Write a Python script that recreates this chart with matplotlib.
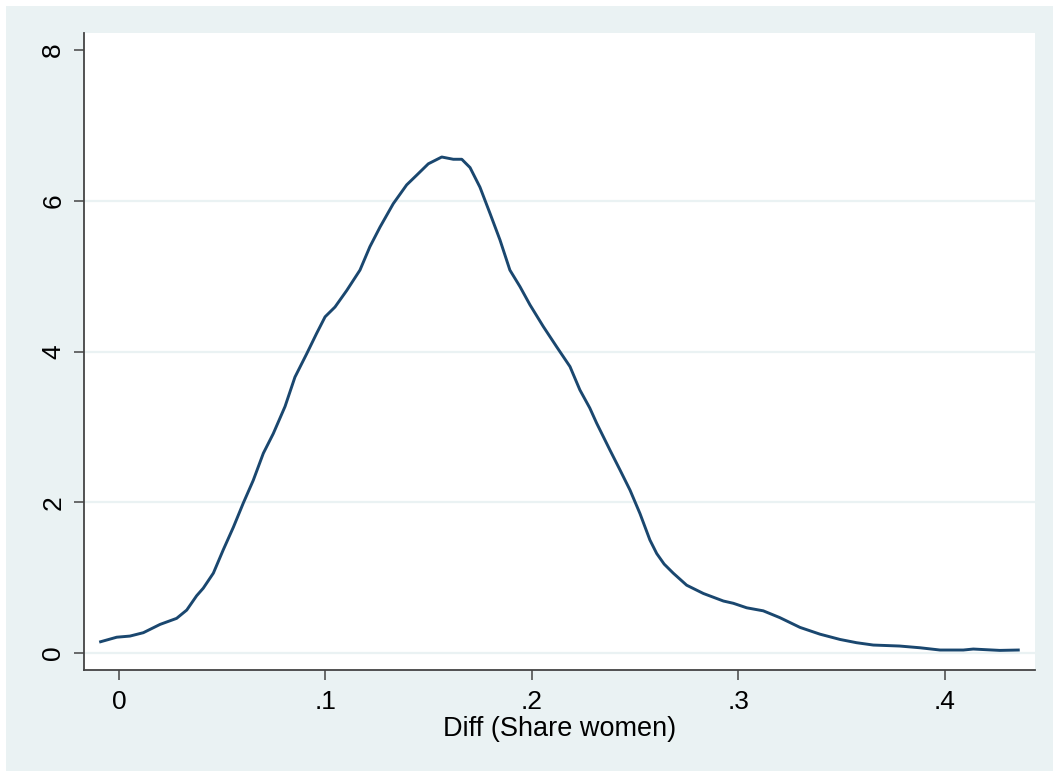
import numpy as np
import matplotlib
matplotlib.use("Agg")
import matplotlib.pyplot as plt
from matplotlib.patches import Rectangle

plt.rcParams['font.family'] = ['Liberation Sans', 'DejaVu Sans']

# kernel density of the share-women difference
diff_x = [-0.0089, -0.0011, 0.0053, 0.0118, 0.0199, 0.0279, 0.0328, 0.0376,
          0.0408, 0.0457, 0.0505, 0.0554, 0.0602, 0.0650, 0.0699, 0.0747,
          0.0804, 0.0852, 0.0909, 0.0957, 0.0998, 0.1046, 0.1103, 0.1167,
          0.1215, 0.1264, 0.1328, 0.1393, 0.1442, 0.1498, 0.1563, 0.1619,
          0.1660, 0.1700, 0.1748, 0.1797, 0.1845, 0.1893, 0.1942, 0.1990,
          0.2055, 0.2120, 0.2184, 0.2232, 0.2280, 0.2313, 0.2378, 0.2426,
          0.2475, 0.2523, 0.2571, 0.2604, 0.2640, 0.2684, 0.2749, 0.2830,
          0.2927, 0.2975, 0.3040, 0.3120, 0.3200, 0.3298, 0.3395, 0.3492,
          0.3572, 0.3653, 0.3780, 0.3879, 0.3976, 0.4089, 0.4137, 0.4266,
          0.4355]
density = [0.15, 0.21, 0.225, 0.27, 0.38, 0.46, 0.57, 0.76,
           0.86, 1.06, 1.37, 1.67, 1.99, 2.29, 2.65, 2.91,
           3.27, 3.66, 3.97, 4.24, 4.46, 4.59, 4.81, 5.08,
           5.39, 5.65, 5.96, 6.21, 6.34, 6.49, 6.58, 6.55,
           6.55, 6.44, 6.18, 5.83, 5.48, 5.08, 4.86, 4.62,
           4.33, 4.06, 3.80, 3.49, 3.25, 3.05, 2.69, 2.43,
           2.16, 1.85, 1.50, 1.32, 1.18, 1.06, 0.90, 0.79,
           0.69, 0.66, 0.60, 0.56, 0.47, 0.34, 0.25, 0.18,
           0.137, 0.106, 0.093, 0.07, 0.04, 0.04, 0.053, 0.035,
           0.04]

xticks = [0, 0.1, 0.2, 0.3, 0.4]
xtick_labels = ["0", ".1", ".2", ".3", ".4"]
yticks = [0, 2, 4, 6, 8]
grid_vals = [0, 2, 4, 6]

bg = "#EAF2F3"
fig = plt.figure(figsize=(10.53, 7.71), dpi=100, facecolor=bg)
# thin white strip on top and left edge, like the source
fig.patches.append(Rectangle((0, 1 - 6 / 771), 1, 6 / 771, transform=fig.transFigure,
                             facecolor="white", edgecolor="none", zorder=-1))
fig.patches.append(Rectangle((0, 0), 6 / 1053, 1, transform=fig.transFigure,
                             facecolor="white", edgecolor="none", zorder=-1))

ax = fig.add_axes([84 / 1053, 1 - 670 / 771, (1035 - 84) / 1053, (670 - 33) / 771])
ax.set_facecolor("white")

for g in grid_vals:
    ax.axhline(g, color=bg, lw=1.6, zorder=1)

ax.plot(diff_x, density, color="#1A476F", lw=2.1, zorder=3)

ax.set_xlim(-0.01695, 0.4436)
ax.set_ylim(-0.225, 8.225)
ax.set_xticks(xticks)
ax.set_xticklabels(xtick_labels)
ax.set_yticks(yticks)
ax.set_yticklabels([str(v) for v in yticks], rotation=90, va="center")

for s in ["top", "right"]:
    ax.spines[s].set_visible(False)
for s in ["left", "bottom"]:
    ax.spines[s].set_color("#444444")
    ax.spines[s].set_linewidth(1.3)

ax.tick_params(axis="both", length=7.5, width=1.1, color="#444444",
               labelsize=19, labelcolor="black")
ax.tick_params(axis="x", pad=7)
ax.tick_params(axis="y", pad=6)

ax.set_xlabel("Diff (Share women)", fontsize=19.5, labelpad=1)

fig.savefig("out.png", dpi=100, facecolor=fig.get_facecolor())
